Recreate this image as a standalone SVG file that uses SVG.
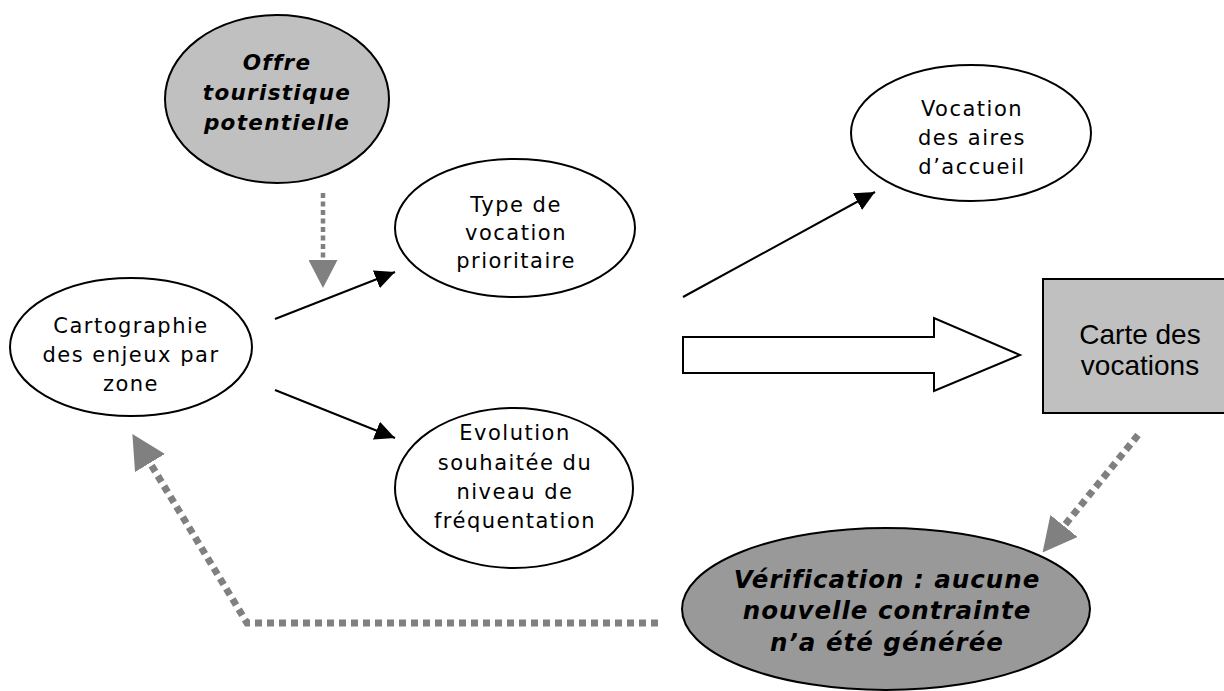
<svg xmlns="http://www.w3.org/2000/svg" width="1224" height="691" viewBox="0 0 1224 691">
<defs>
<style>
.bg{fill:#ffffff}
.node{stroke:#000000;stroke-width:2}
.white{fill:#ffffff}
.light{fill:#c0c0c0}
.dark{fill:#999999}
.t{font-family:"DejaVu Sans",Verdana,sans-serif;font-size:21px;letter-spacing:1.5px;fill:#000000;text-anchor:middle}
.bi{font-family:"DejaVu Sans",Verdana,sans-serif;font-weight:bold;font-style:italic;fill:#000000;text-anchor:middle}
.ar{font-family:"Liberation Sans",Arial,sans-serif;font-size:28px;fill:#000000;text-anchor:middle}
.blk{stroke:#000000;stroke-width:2;fill:none}
.dotS{stroke:#808080;stroke-width:4.5;stroke-dasharray:5 3.5;fill:none}
.dotL{stroke:#808080;stroke-width:7;stroke-dasharray:7 5;fill:none}
</style>
<marker id="ab" markerUnits="userSpaceOnUse" markerWidth="20" markerHeight="19" refX="20" refY="9.5" orient="auto">
<path d="M0,0 L20,9.5 L0,19 z" fill="#000000"/>
</marker>
<marker id="gs" markerUnits="userSpaceOnUse" markerWidth="28" markerHeight="29" refX="0" refY="14.5" orient="auto">
<path d="M0,0 L28,14.5 L0,29 z" fill="#808080"/>
</marker>
<marker id="gl" markerUnits="userSpaceOnUse" markerWidth="34" markerHeight="35" refX="0" refY="17.5" orient="auto">
<path d="M0,0 L34,17.5 L0,35 z" fill="#808080"/>
</marker>
</defs>
<rect class="bg" x="0" y="0" width="1224" height="691"/>

<g id="connectors">
<path class="dotS" d="M323,193 L323,260" marker-end="url(#gs)"/>
<path class="blk" d="M275,319 L395,272" marker-end="url(#ab)"/>
<path class="blk" d="M275,390 L395,438" marker-end="url(#ab)"/>
<path class="blk" d="M683,297 L875,192" marker-end="url(#ab)"/>
<polygon class="node white" points="683,337 934,337 934,318 1020,355 934,391 934,373 683,373"/>
<path class="dotL" d="M1138,435 L1064,526" marker-end="url(#gl)"/>
<path class="dotL" d="M658,623 L247,623 L150,463" marker-end="url(#gl)"/>
</g>

<g id="offre">
<ellipse class="node light" cx="277" cy="99" rx="112" ry="84"/>
<text class="bi" font-size="21.5" letter-spacing="1.3" x="277" y="70">Offre</text>
<text class="bi" font-size="21.5" letter-spacing="1.3" x="277" y="100">touristique</text>
<text class="bi" font-size="21.5" letter-spacing="1.3" x="277" y="130">potentielle</text>
</g>

<g id="cartographie">
<ellipse class="node white" cx="131" cy="347" rx="121" ry="69"/>
<text class="t" x="131" y="333">Cartographie</text>
<text class="t" x="131" y="362">des enjeux par</text>
<text class="t" x="131" y="391">zone</text>
</g>

<g id="type">
<ellipse class="node white" cx="515" cy="228" rx="120" ry="69"/>
<text class="t" x="516" y="212">Type de</text>
<text class="t" x="516" y="240">vocation</text>
<text class="t" x="516" y="268">prioritaire</text>
</g>

<g id="vocation">
<ellipse class="node white" cx="971" cy="133" rx="120" ry="68"/>
<text class="t" x="972" y="116">Vocation</text>
<text class="t" x="972" y="145">des aires</text>
<text class="t" x="972" y="174">d’accueil</text>
</g>

<g id="evolution">
<ellipse class="node white" cx="514" cy="488" rx="119" ry="80"/>
<text class="t" x="515" y="440">Evolution</text>
<text class="t" x="515" y="469.5">souhaitée du</text>
<text class="t" x="515" y="499">niveau de</text>
<text class="t" x="515" y="528">fréquentation</text>
</g>

<g id="carte">
<rect class="node light" x="1043" y="279" width="200" height="134"/>
<text class="ar" x="1140" y="344">Carte des</text>
<text class="ar" x="1140" y="375">vocations</text>
</g>

<g id="verification">
<ellipse class="node dark" cx="886" cy="609" rx="204" ry="81"/>
<text class="bi" font-size="24.5" letter-spacing="1" x="887" y="588">Vérification : aucune</text>
<text class="bi" font-size="24.5" letter-spacing="1" x="887" y="619">nouvelle contrainte</text>
<text class="bi" font-size="24.5" letter-spacing="1" x="887" y="651">n’a été générée</text>
</g>
</svg>
